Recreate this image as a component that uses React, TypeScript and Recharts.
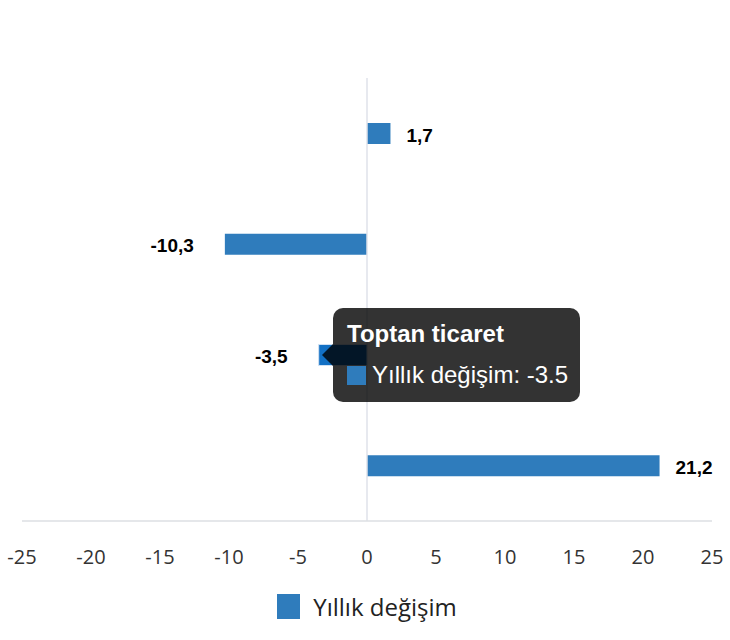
import React from 'react';
import {
  BarChart,
  Bar,
  XAxis,
  YAxis,
  Tooltip,
  Legend,
  ReferenceLine,
  LabelList,
} from 'recharts';

const sectors = ['Toplam ticaret', 'Motorlu kara taşıtları', 'Toptan ticaret', 'Perakende ticaret'];
const yearlyChange = [1.7, -10.3, -3.5, 21.2];
const xTicks = [-25, -20, -15, -10, -5, 0, 5, 10, 15, 20, 25];

const SERIES_NAME = 'Yıllık değişim';
const BAR_COLOR = '#2f7cbc';

const data = sectors.map((name, i) => ({ name, value: yearlyChange[i] }));

const ValueLabel = (props: any) => {
  const { x, y, width, height, value } = props;
  const end = x + width;
  const neg = value < 0;
  const tx = neg ? Math.min(x, end) - 31 : Math.max(x, end) + 16;
  return (
    <text
      x={tx}
      y={y + height / 2 + 3}
      textAnchor={neg ? 'end' : 'start'}
      dominantBaseline="middle"
      fontFamily="'Liberation Sans', Arial, sans-serif"
      fontWeight="bold"
      fontSize={19}
      fill="#000"
    >
      {String(value).replace('.', ',')}
    </text>
  );
};

const TipBox = (props: any) => {
  const { active, payload, label } = props;
  if (!active || !payload || !payload.length) return null;
  const bg = 'rgba(0,0,0,0.8)';
  return (
    <div
      style={{
        position: 'relative',
        background: bg,
        borderRadius: 10,
        width: 247,
        height: 94,
        boxSizing: 'border-box',
        padding: '12px 14px',
        color: '#fff',
        fontFamily: "'Liberation Sans', Arial, sans-serif",
        whiteSpace: 'nowrap',
      }}
    >
      <div
        style={{
          position: 'absolute',
          left: -11,
          top: 36,
          width: 0,
          height: 0,
          borderTop: '11px solid transparent',
          borderBottom: '11px solid transparent',
          borderRight: `11px solid ${bg}`,
        }}
      />
      <div style={{ fontWeight: 'bold', fontSize: 24, lineHeight: '28px' }}>{label}</div>
      <div
        style={{ display: 'flex', alignItems: 'center', marginTop: 13, fontSize: 24, lineHeight: '28px' }}
      >
        <span
          style={{
            display: 'inline-block',
            flexShrink: 0,
            width: 19,
            height: 19,
            background: BAR_COLOR,
            marginRight: 6,
          }}
        />
        {`${SERIES_NAME}: ${payload[0].value}`}
      </div>
    </div>
  );
};

const LegendBox = () => (
  <div
    style={{
      height: 42,
      display: 'flex',
      justifyContent: 'center',
      alignItems: 'center',
      fontFamily: "'Open Sans', sans-serif",
      fontSize: 24,
      color: '#222',
    }}
  >
    <span
      style={{ display: 'inline-block', width: 23, height: 25, background: BAR_COLOR, marginRight: 13 }}
    />
    {SERIES_NAME}
  </div>
);

export default function App() {
  return (
    <div style={{ position: 'absolute', left: 0, top: 0, width: 730, height: 640, background: '#fff' }}>
      <BarChart
        width={730}
        height={640}
        data={data}
        layout="vertical"
        margin={{ top: 78, right: 18, left: 22, bottom: 13 }}
        barCategoryGap={0}
      >
        <XAxis
          type="number"
          domain={[-25, 25]}
          ticks={xTicks}
          interval={0}
          tickLine={false}
          tickSize={0}
          tickMargin={29}
          height={64}
          axisLine={{ stroke: '#dcdfe3', strokeWidth: 1.5 }}
          tick={{ fill: '#333', fontSize: 20, fontFamily: "'Open Sans', sans-serif" }}
        />
        <YAxis type="category" dataKey="name" hide />
        <ReferenceLine x={0} stroke="#dfe2ea" strokeWidth={1.5} />
        <Tooltip
          active
          defaultIndex={2}
          cursor={false}
          content={<TipBox />}
          position={{ x: 333, y: 308 }}
          allowEscapeViewBox={{ x: true, y: true }}
          wrapperStyle={{ outline: 'none', zIndex: 5 }}
          isAnimationActive={false}
        />
        <Legend verticalAlign="bottom" height={42} content={<LegendBox />} />
        <Bar
          dataKey="value"
          name={SERIES_NAME}
          fill={BAR_COLOR}
          barSize={21}
          activeBar={{ fill: '#1270c4', stroke: '#cfe0f2', strokeWidth: 1 }}
          isAnimationActive={false}
        >
          <LabelList dataKey="value" content={<ValueLabel />} />
        </Bar>
      </BarChart>
    </div>
  );
}
